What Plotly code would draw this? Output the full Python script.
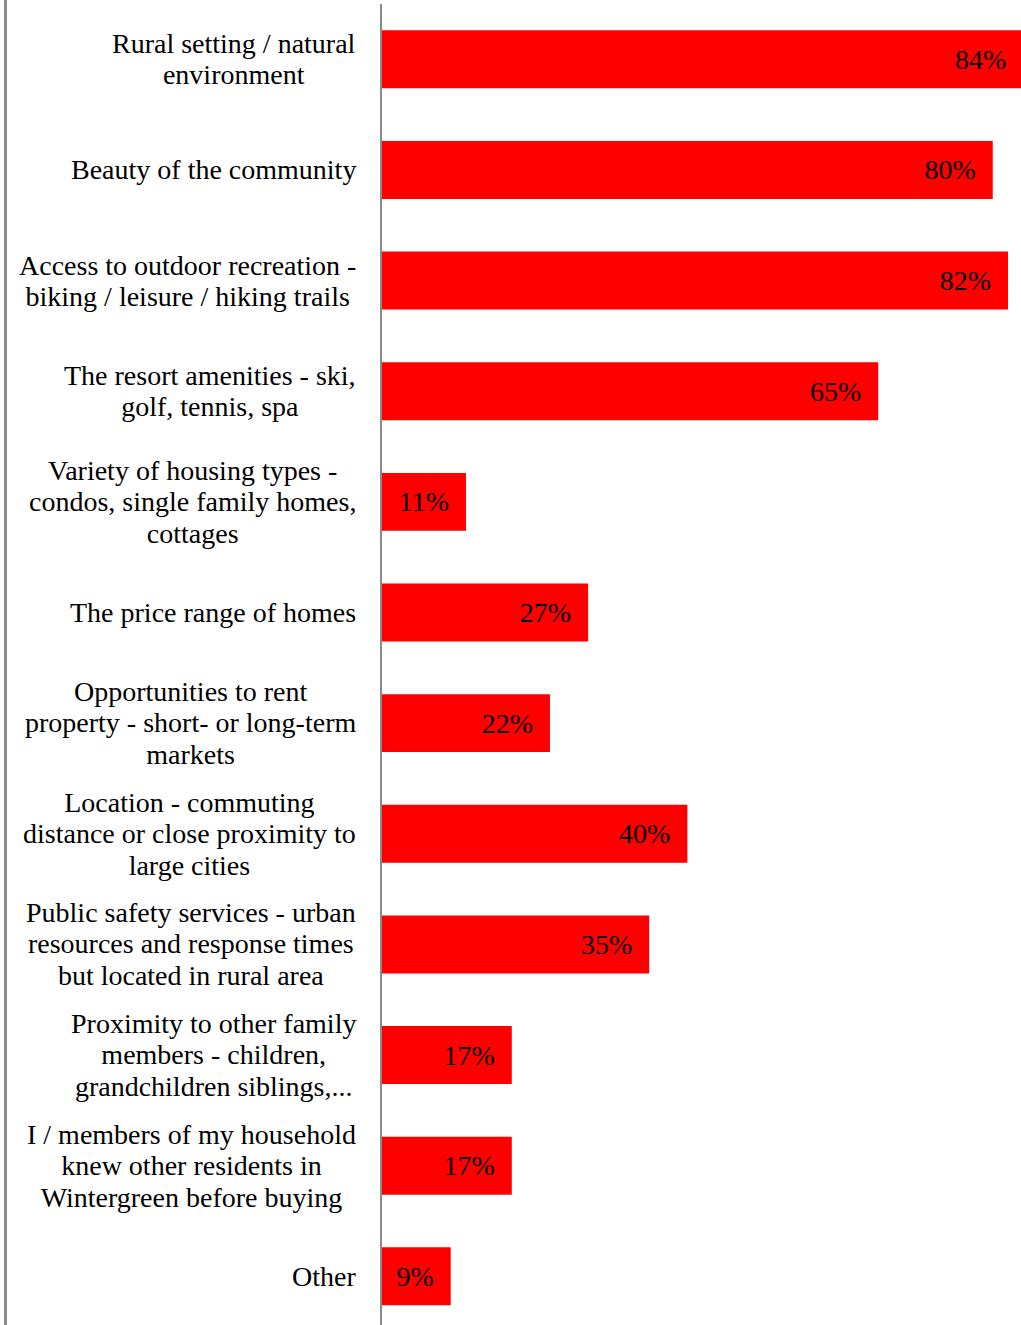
import plotly.graph_objects as go

# Reasons for choosing the community (% of respondents)
categories = [
    "Rural setting / natural<br>environment",
    "Beauty of the community",
    "Access to outdoor recreation -<br>biking / leisure / hiking trails",
    "The resort amenities - ski,<br>golf, tennis, spa",
    "Variety of housing types -<br>condos, single family homes,<br>cottages",
    "The price range of homes",
    "Opportunities to rent<br>property - short- or long-term<br>markets",
    "Location - commuting<br>distance or close proximity to<br>large cities",
    "Public safety services - urban<br>resources and response times<br>but located in rural area",
    "Proximity to other family<br>members - children,<br>grandchildren siblings,...",
    "I / members of my household<br>knew other residents in<br>Wintergreen before buying",
    "Other",
]
values = [84, 80, 82, 65, 11, 27, 22, 40, 35, 17, 17, 9]

FONT = "Liberation Serif"
W, H = 1021, 1325
LEFT, TOP = 382, 4
X_MAX = 83.7  # value axis extent shown inside the plot area

fig = go.Figure(
    go.Bar(
        x=values,
        y=list(range(len(categories))),
        orientation="h",
        width=0.524,
        marker=dict(color="#FF0000", line=dict(width=0)),
        texttemplate="%{x}%\u00a0\u00a0",
        textposition="inside",
        insidetextanchor="end",
        textangle=0,
        textfont=dict(family=FONT, size=28, color="#000000"),
        constraintext="none",
        cliponaxis=True,
        hoverinfo="skip",
    )
)

# Category labels: right-aligned block, centred lines
for i, label in enumerate(categories):
    lines = label.split("<br>")
    txt = "<br>".join(f'<span style="font-size:28px">{ln}</span>' for ln in lines)
    fig.add_annotation(
        x=0, xref="paper", xanchor="right", xshift=-24,
        y=i, yref="y", yanchor="middle",
        text=txt, align="center", showarrow=False,
        font=dict(family=FONT, size=24.2, color="#000000"),
    )

plot_w = W - LEFT
plot_h = H - TOP

# Outer chart border on the left
fig.add_shape(
    type="line", xref="paper", yref="paper",
    x0=(5.5 - LEFT) / plot_w, x1=(5.5 - LEFT) / plot_w,
    y0=-0.01, y1=1 + TOP / plot_h,
    line=dict(color="#8a8a8a", width=3),
)

fig.update_layout(
    width=W, height=H,
    margin=dict(l=LEFT, r=0, t=TOP, b=0, pad=0),
    paper_bgcolor="white", plot_bgcolor="white",
    showlegend=False,
    xaxis=dict(
        range=[0, X_MAX],
        showgrid=False, zeroline=False, showticklabels=False,
        ticks="", showline=False, fixedrange=True,
    ),
    yaxis=dict(
        range=[11.44, -0.5],
        showgrid=False, zeroline=False, showticklabels=False,
        ticks="", showline=True, linecolor="#8a8a8a", linewidth=2,
        fixedrange=True,
    ),
)

fig.write_html("out.html")
